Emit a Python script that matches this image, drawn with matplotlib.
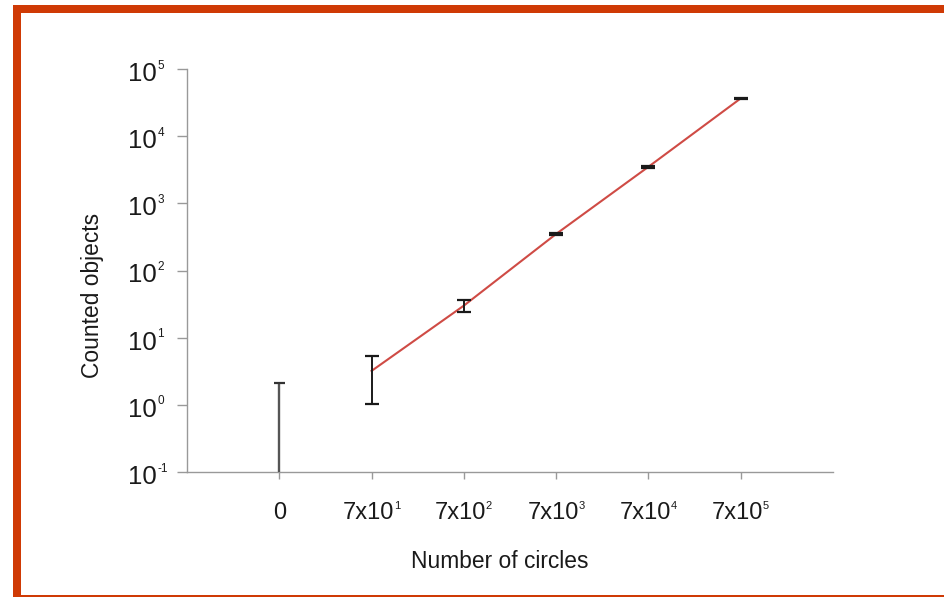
import matplotlib
matplotlib.use("Agg")
import matplotlib.pyplot as plt
from matplotlib.patches import Rectangle
import numpy as np

plt.rcParams['font.family'] = ['Liberation Sans', 'DejaVu Sans']

# Circle counts per condition and counted objects (mean with error range)
cat_base = ["0", "7x10", "7x10", "7x10", "7x10", "7x10"]
cat_exp = ["", "1", "2", "3", "4", "5"]
means = [0, 3.2, 30, 350, 3500, 36500]
upper = [2.1, 5.3, 36, 365, 3620, 37600]
lower = [0, 1.03, 24.5, 337, 3390, 35400]
y_decades = [-1, 0, 1, 2, 3, 4, 5]

W, H = 944, 597
fig = plt.figure(figsize=(W / 100, H / 100), dpi=100)
fig.patch.set_facecolor("white")

# Frame around the slide
frame_c = "#cf3a05"
fig.add_artist(Rectangle((13 / W, 1 - 13 / H), 1 - 13 / W, 8 / H, transform=fig.transFigure,
                         color=frame_c, lw=0, zorder=0))
fig.add_artist(Rectangle((13 / W, 0), 8 / W, 1 - 5 / H, transform=fig.transFigure,
                         color=frame_c, lw=0, zorder=0))
fig.add_artist(Rectangle((13 / W, 0), 1 - 13 / W, 2.5 / H, transform=fig.transFigure,
                         color=frame_c, lw=0, zorder=0))

ax_left, ax_bottom, ax_w, ax_h = 187, 125, 646, 403
ax = fig.add_axes([ax_left / W, ax_bottom / H, ax_w / W, ax_h / H])
ax.set_yscale("log")
ax.set_ylim(10.0 ** y_decades[0], 10.0 ** y_decades[-1])
ax.set_xlim(0, len(cat_base) + 1)

x = np.arange(1, len(cat_base) + 1)
means_a = np.array(means, dtype=float)
up_a = np.array(upper, dtype=float)
lo_a = np.array(lower, dtype=float)

# Zero-count condition: only the upper range is visible on a log axis
ax.vlines(x[0], 10.0 ** y_decades[0], up_a[0], color="#555555", lw=1.7, zorder=3)
ax.hlines(up_a[0], x[0] - 0.06, x[0] + 0.06, color="#333333", lw=1.6, zorder=3)

# Non-zero conditions
ax.errorbar(x[1:], means_a[1:],
            yerr=[means_a[1:] - lo_a[1:], up_a[1:] - means_a[1:]],
            fmt="none", ecolor="#1a1a1a", elinewidth=1.4, capsize=5, capthick=1.6, zorder=3)

# Trend through the non-zero means
ax.plot(x[1:], means_a[1:], color="#cf4b45", lw=1.5, zorder=2)

for s in ["top", "right"]:
    ax.spines[s].set_visible(False)
for s in ["left", "bottom"]:
    ax.spines[s].set_color("#999999")
    ax.spines[s].set_linewidth(1.0)

ax.set_yticks([10.0 ** d for d in y_decades])
ax.yaxis.set_minor_locator(matplotlib.ticker.NullLocator())
ax.set_yticklabels([])
ax.tick_params(axis="y", length=7, width=1, color="#999999")
ax.set_xticks(x)
ax.set_xticklabels([])
ax.tick_params(axis="x", length=5, width=1, color="#999999")

txt_c = "#1a1a1a"
# Y tick labels: "10" with a small raised exponent
for d in y_decades:
    v = 10.0 ** d
    ax.annotate("10", xy=(0, v), xycoords=("axes fraction", "data"),
                xytext=(-30, -12), textcoords="offset pixels",
                ha="right", va="baseline", fontsize=18.5, color=txt_c)
    ax.annotate(str(d), xy=(0, v), xycoords=("axes fraction", "data"),
                xytext=(-29.5, 0.5), textcoords="offset pixels",
                ha="left", va="baseline", fontsize=8.5, color=txt_c)

# X tick labels: base text plus exponent, centred on the tick as a unit
renderer = fig.canvas.get_renderer()
base_y = -(519 - 472)
sup_y = base_y + 10
for xi, b, e in zip(x, cat_base, cat_exp):
    tb = ax.annotate(b, xy=(xi, 0), xycoords=("data", "axes fraction"),
                     xytext=(0, base_y), textcoords="offset pixels",
                     ha="left", va="baseline", fontsize=17, color=txt_c)
    wb = tb.get_window_extent(renderer).width
    ws = 0.0
    ts = None
    if e:
        ts = ax.annotate(e, xy=(xi, 0), xycoords=("data", "axes fraction"),
                         xytext=(0, sup_y), textcoords="offset pixels",
                         ha="left", va="baseline", fontsize=8, color=txt_c)
        ws = ts.get_window_extent(renderer).width
    start = -(wb + ws) / 2
    tb.xyann = (start, base_y)
    if ts is not None:
        ts.xyann = (start + wb - 0.5, sup_y)

fig.text(93 / W, 1 - 295 / H, "Counted objects", rotation=90, ha="center", va="center",
         fontsize=16.4, color=txt_c)
fig.text(500 / W, 1 - 561 / H, "Number of circles", ha="center", va="center",
         fontsize=16.4, color=txt_c)

fig.savefig("out.png", dpi=100, facecolor="white")
